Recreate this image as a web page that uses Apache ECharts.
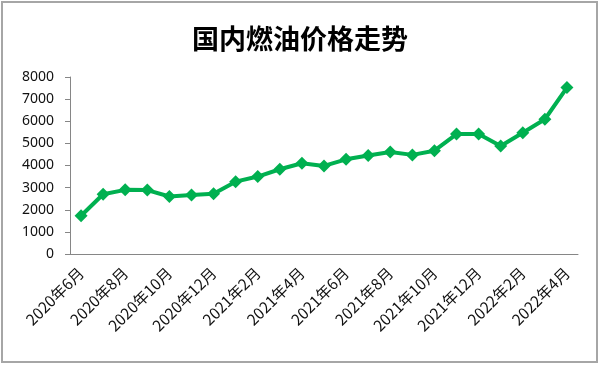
<!DOCTYPE html>
<html><head><meta charset="utf-8">
<script src="https://cdn.jsdelivr.net/npm/echarts@6/dist/echarts.min.js"></script>
<style>html,body{margin:0;padding:0;background:#fff}#c{width:600px;height:366px}</style>
</head><body><div id="c"></div>
<script>
var categories = ["2020年6月","2020年7月","2020年8月","2020年9月","2020年10月","2020年11月","2020年12月",
  "2021年1月","2021年2月","2021年3月","2021年4月","2021年5月","2021年6月","2021年7月","2021年8月","2021年9月","2021年10月","2021年11月","2021年12月",
  "2022年1月","2022年2月","2022年3月","2022年4月"];
var prices = [1730,2700,2900,2890,2600,2670,2720,3270,3500,3830,4100,3980,4280,4450,4610,4480,4670,5420,5420,4880,5480,6090,7520];
var yTicks = {min:0, max:8000, interval:1000};
var chart = echarts.init(document.getElementById('c'));
chart.setOption({
  animation:false,
  graphic:[{type:'rect',shape:{x:2,y:2,width:595,height:360},style:{fill:'none',stroke:'#a6a6a6',lineWidth:2}}],
  title:{text:'国内燃油价格走势',left:'center',top:20,textStyle:{fontFamily:'Noto Sans CJK SC',fontWeight:'bold',fontSize:27,color:'#000'}},
  grid:{left:70,right:22,top:77,bottom:112},
  xAxis:{type:'category',data:categories,boundaryGap:true,
    axisLine:{lineStyle:{color:'#868686',width:1}},
    axisTick:{interval:1,length:5,lineStyle:{color:'#868686'}},
    axisLabel:{interval:1,rotate:45,fontSize:15.5,color:'#111',fontFamily:'Noto Sans CJK SC',margin:16}},
  yAxis:{type:'value',min:yTicks.min,max:yTicks.max,interval:yTicks.interval,
    axisLine:{show:true,lineStyle:{color:'#868686'}},
    axisTick:{show:true,length:5,lineStyle:{color:'#868686'}},
    splitLine:{show:false},
    axisLabel:{fontSize:14,color:'#111',fontFamily:'Noto Sans',margin:16,formatter:function(v){return String(v);}}},
  series:[{type:'line',data:prices,symbol:'diamond',symbolSize:13,
    lineStyle:{color:'#00B050',width:4},itemStyle:{color:'#00B050'}}]
});
</script></body></html>
